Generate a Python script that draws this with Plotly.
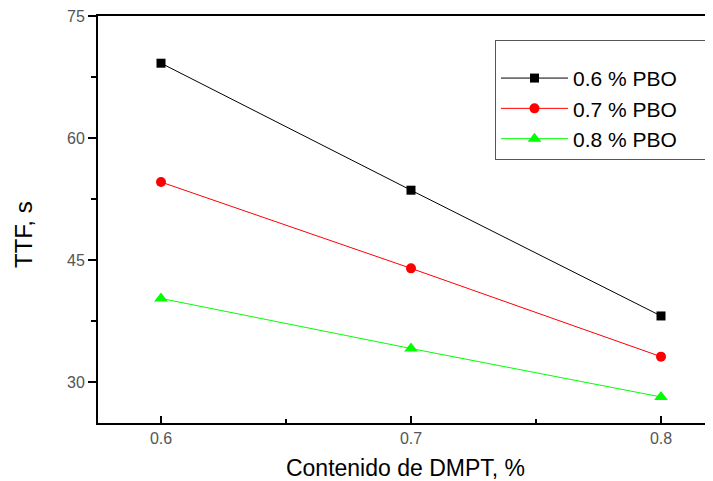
import plotly.graph_objects as go

dmpt = [0.6, 0.7, 0.8]
ttf_06 = [69.2, 53.6, 38.15]
ttf_07 = [54.6, 44.0, 33.15]
ttf_08 = [40.3, 34.15, 28.2]
names = ["0.6 % PBO", "0.7 % PBO", "0.8 % PBO"]
y_title = "TTF, s"
x_title = "Contenido de DMPT, %"

pad = "\u00a0" * 4

fig = go.Figure()
series = [
    (ttf_06, "black", "square", 9),
    (ttf_07, "#ff0000", "circle", 10),
    (ttf_08, "#00ff00", "triangle-up", 12),
]
for (vals, col, sym, sz), nm in zip(series, names):
    fig.add_trace(go.Scatter(
        x=dmpt, y=vals, mode="lines+markers", name=nm + pad,
        line=dict(color=col, width=1),
        marker=dict(color=col, symbol=sym, size=sz, line=dict(width=0)),
    ))

fig.update_layout(
    width=705, height=473,
    margin=dict(l=90, r=0, t=8, b=58),
    paper_bgcolor="white", plot_bgcolor="white",
    font=dict(family="Liberation Sans, Arial, sans-serif", color="black"),
    showlegend=True,
    legend=dict(
        x=0.6455, y=0.941, xanchor="left", yanchor="top",
        bordercolor="#555555", borderwidth=1, bgcolor="white",
        font=dict(size=21, color="black"),
        title=dict(text=" ", font=dict(size=13)),
        tracegroupgap=0, itemwidth=67,
    ),
    annotations=[dict(
        text=y_title, xref="paper", yref="paper", x=0, y=0.462,
        xanchor="center", yanchor="middle", xshift=-74,
        textangle=-90, showarrow=False,
        font=dict(size=24, color="black"),
    )],
)
fig.update_xaxes(
    range=[0.5748, 0.8208],
    tickmode="linear", tick0=0.6, dtick=0.1, tickformat=".1f",
    ticks="inside", ticklen=7, tickwidth=2, tickcolor="black",
    minor=dict(ticks="inside", ticklen=4, tickwidth=1.5, dtick=0.05, tick0=0.6, tickcolor="black"),
    showline=True, linecolor="black", linewidth=2, mirror=True,
    showgrid=False, zeroline=False,
    tickfont=dict(size=16, color="#555555"),
    ticklabeloverflow="allow",
    title=dict(text=x_title, font=dict(size=23, color="black"), standoff=14),
)
fig.update_yaxes(
    range=[25, 75],
    tickmode="linear", tick0=30, dtick=15,
    ticks="outside", ticklen=8, tickwidth=2, tickcolor="black",
    minor=dict(ticks="outside", ticklen=5, tickwidth=1.5, dtick=7.5, tick0=30, tickcolor="black"),
    showline=True, linecolor="black", linewidth=2,
    showgrid=False, zeroline=False,
    tickfont=dict(size=16, color="#555555"),
    ticklabeloverflow="allow",
)

fig.write_html("out.html")
